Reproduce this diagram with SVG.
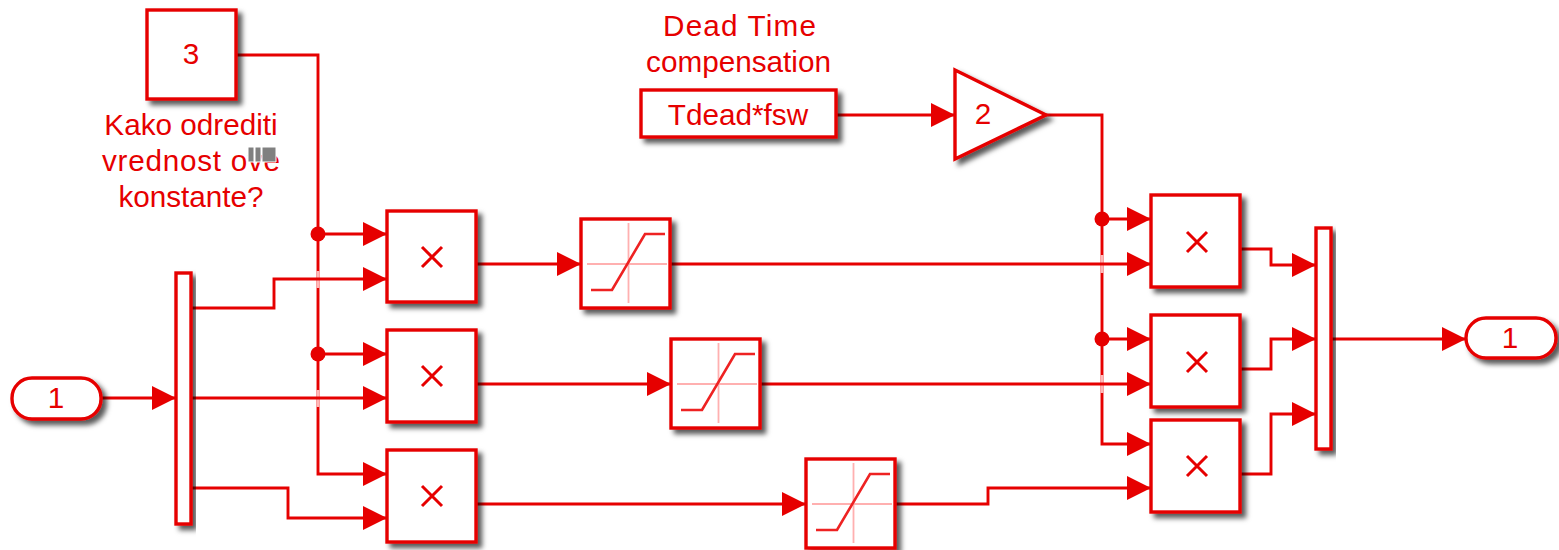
<svg xmlns="http://www.w3.org/2000/svg" width="1559" height="550" viewBox="0 0 1559 550">
<defs>
<filter id="sh" x="-20%" y="-20%" width="150%" height="150%"><feDropShadow dx="4.5" dy="4.5" stdDeviation="2.8" flood-color="#000" flood-opacity="0.65"/></filter>
<marker id="ah" markerUnits="userSpaceOnUse" markerWidth="25" markerHeight="25" refX="24" refY="12" orient="auto"><path d="M0 0L24 12L0 24Z" fill="#e60000"/></marker>
<g id="sat"><path d="M6 45H86M47.500 4V84" stroke="#ffb0b0" stroke-width="1.800" fill="none"/><path d="M10 71H31L64 15H84" stroke="#ee2222" stroke-width="2.600" fill="none"/></g>
<path id="x" d="M-10 -10L10 10M-10 10L10 -10" stroke="#e60000" stroke-width="3" fill="none"/>
</defs>
<style>
.b{fill:#fff;stroke:#e60000;stroke-width:3.400;filter:url(#sh)}
.w{fill:none;stroke:#e60000;stroke-width:2.900}
.a{marker-end:url(#ah)}
.t{fill:#e60000;font-family:"Liberation Sans",Arial,sans-serif;font-size:29.700px;text-anchor:middle}
.g{stroke:#ffb8b8;stroke-width:3;fill:none}
</style>
<rect width="1559" height="550" fill="#fff"/>
<g id="connectors">
<path class="w a" d="M236 55H318V474H387"/>
<path class="w a" d="M318 234H387"/>
<path class="w a" d="M318 354H387"/>
<path class="g" d="M318 271V288M318 390V407"/>
<path class="w a" d="M191 308H274V279H387"/>
<path class="w a" d="M191 398H387"/>
<path class="w a" d="M191 488H288V518H387"/>
<path class="w a" d="M101 398H176"/>
<path class="w a" d="M476 264H581"/>
<path class="w a" d="M476 384H671"/>
<path class="w a" d="M476 504H806"/>
<path class="w a" d="M836 115H955"/>
<path class="w a" d="M1046 115H1102V444H1151"/>
<path class="w a" d="M1102 219H1151"/>
<path class="w a" d="M1102 339H1151"/>
<path class="g" d="M1102 255V273M1102 375V393"/>
<path class="w a" d="M670 264H1151"/>
<path class="w a" d="M760 384H1151"/>
<path class="w a" d="M895 504H988V488H1151"/>
<path class="w a" d="M1240 249H1271V265H1316"/>
<path class="w a" d="M1240 369H1271V339H1316"/>
<path class="w a" d="M1240 474H1271V414H1316"/>
<path class="w a" d="M1330 339H1466"/>
<circle cx="318" cy="234" r="7.500" fill="#e60000"/>
<circle cx="318" cy="354" r="7.500" fill="#e60000"/>
<circle cx="1102" cy="219" r="7.500" fill="#e60000"/>
<circle cx="1102" cy="339" r="7.500" fill="#e60000"/>
</g>
<g id="const3"><rect class="b" x="147" y="10" width="89" height="89"/><text class="t" x="191" y="64">3</text></g>
<g id="note"><text class="t" x="191" y="135">Kako odrediti</text><text class="t" x="191" y="171" textLength="178">vrednost ove</text><text class="t" x="191" y="207">konstante?</text><path d="M248 147h6v15h-6zM255 147h6v15h-6zM262 147h14v15h-14z" fill="#808080" stroke="#fff" stroke-width="1"/></g>
<g id="in1"><rect class="b" x="12" y="378" width="89" height="41" rx="20" ry="20"/><text class="t" x="56" y="408">1</text></g>
<g id="demux"><rect class="b" x="176" y="273" width="15" height="251"/></g>
<g id="prod1"><rect class="b" x="387" y="211" width="89" height="91"/><use href="#x" x="432" y="257"/></g>
<g id="prod2"><rect class="b" x="387" y="330" width="89" height="92"/><use href="#x" x="432" y="376"/></g>
<g id="prod3"><rect class="b" x="387" y="450" width="89" height="92"/><use href="#x" x="432" y="496"/></g>
<g id="sat1"><rect class="b" x="581" y="219" width="89" height="89"/><use href="#sat" x="581" y="219"/></g>
<g id="sat2"><rect class="b" x="671" y="339" width="89" height="89"/><use href="#sat" x="671" y="339"/></g>
<g id="sat3"><rect class="b" x="806" y="459" width="89" height="89"/><use href="#sat" x="806" y="459"/></g>
<g id="deadtime-label"><text class="t" x="739.500" y="36" textLength="153">Dead Time</text><text class="t" x="738.500" y="72">compensation</text></g>
<g id="tdead"><rect class="b" x="641" y="90" width="195" height="47"/><text class="t" x="738" y="125">Tdead*fsw</text></g>
<g id="gain"><path class="b" d="M955 70L1046 115L955 159Z"/><text class="t" x="983" y="124">2</text></g>
<g id="prod4"><rect class="b" x="1151" y="195" width="89" height="92"/><use href="#x" x="1197" y="242"/></g>
<g id="prod5"><rect class="b" x="1151" y="315" width="89" height="92"/><use href="#x" x="1197" y="362"/></g>
<g id="prod6"><rect class="b" x="1151" y="420" width="89" height="92"/><use href="#x" x="1197" y="466"/></g>
<g id="mux"><rect class="b" x="1316" y="228" width="15" height="221"/></g>
<g id="out1"><rect class="b" x="1466" y="318" width="90" height="40" rx="20" ry="20"/><text class="t" x="1510" y="348">1</text></g>
</svg>
